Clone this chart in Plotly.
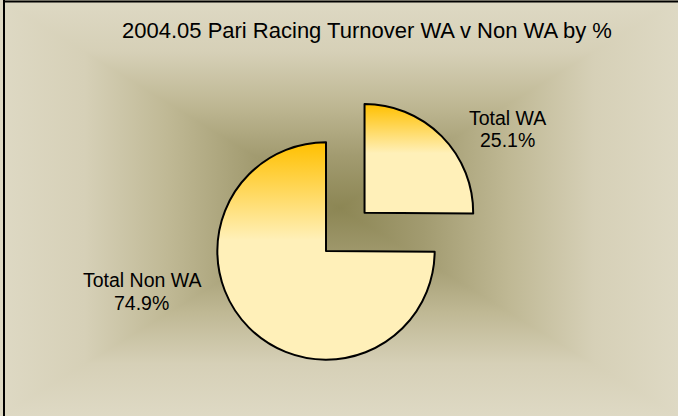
import base64
import plotly.graph_objects as go

# ---- data ----
labels = ["Total WA", "Total Non WA"]
values = [25.1, 74.9]
title_text = "2004.05 Pari Racing Turnover WA v Non WA by %"
pulls = [0.5, 0.0]

W, H = 678, 416
FONT = "Liberation Sans Narrow, Arial Narrow, Liberation Sans, Arial, sans-serif"

# ---- background: rectangular "from centre" gradient as an SVG image ----
cx, cy = W / 2, H / 2
stops = [(0.0, "#DED9C4"), (0.25, "#D6D0B7"), (0.5, "#BFB894"),
         (0.75, "#A29B70"), (1.0, "#8C8654")]
def grad(gid, x1, y1, x2, y2):
    s = "".join(f'<stop offset="{o}" stop-color="{c}"/>' for o, c in stops)
    return (f'<linearGradient id="{gid}" gradientUnits="userSpaceOnUse" '
            f'x1="{x1}" y1="{y1}" x2="{x2}" y2="{y2}">{s}</linearGradient>')
def tri(pts, gid):
    return (f'<polygon points="{pts}" fill="url(#{gid})" '
            f'stroke="url(#{gid})" stroke-width="1.2"/>')
svg = (f'<svg xmlns="http://www.w3.org/2000/svg" width="{W}" height="{H}" viewBox="0 0 {W} {H}">'
       '<defs>'
       + grad("gt", 0, 0, 0, cy) + grad("gb", 0, H, 0, cy)
       + grad("gl", 0, 0, cx, 0) + grad("gr", W, 0, cx, 0) +
       '</defs>'
       + tri(f"0,0 {W},0 {cx},{cy}", "gt")
       + tri(f"0,{H} {W},{H} {cx},{cy}", "gb")
       + tri(f"0,0 0,{H} {cx},{cy}", "gl")
       + tri(f"{W},0 {W},{H} {cx},{cy}", "gr")
       + '</svg>')
bg_src = "data:image/svg+xml;base64," + base64.b64encode(svg.encode()).decode()

fig = go.Figure()
fig.add_trace(go.Pie(
    labels=labels, values=values, pull=pulls,
    sort=False, direction="clockwise", rotation=0,
    textinfo="none", hoverinfo="label+percent",
    marker=dict(colors=["#FFF0B9", "#FFF0B9"], line=dict(color="black", width=2)),
    domain=dict(x=[(326 - 163) / W, (326 + 163) / W],
                y=[1 - 414 / H, 1 - 88 / H]),
    showlegend=False,
))

def py(p):
    return 1 - p / H

annotations = [
    dict(text=title_text, x=367 / W, y=py(31), font=dict(size=22)),
    dict(text=labels[0], x=507 / W, y=py(118), font=dict(size=19.5)),
    dict(text=f"{values[0]:.1f}%", x=507 / W, y=py(140), font=dict(size=19.5)),
    dict(text=labels[1], x=142 / W, y=py(280), font=dict(size=19.5)),
    dict(text=f"{values[1]:.1f}%", x=141 / W, y=py(303), font=dict(size=19.5)),
]
for a in annotations:
    a.update(xref="paper", yref="paper", showarrow=False,
             xanchor="center", yanchor="middle")
    a["font"].update(family=FONT, color="black")

fig.update_layout(
    width=W, height=H,
    margin=dict(l=0, r=0, t=0, b=0),
    paper_bgcolor="#DED9C4",
    plot_bgcolor="rgba(0,0,0,0)",
    font=dict(family=FONT, color="black"),
    annotations=annotations,
    images=[dict(source=bg_src, xref="paper", yref="paper", x=0, y=1,
                 sizex=1, sizey=1, xanchor="left", yanchor="top",
                 sizing="stretch", layer="below")],
    shapes=[
        dict(type="line", xref="paper", yref="paper",
             x0=4 / W, x1=4 / W, y0=0, y1=1, line=dict(color="black", width=2)),
        dict(type="line", xref="paper", yref="paper",
             x0=3 / W, x1=1, y0=1 - 1.5 / H, y1=1 - 1.5 / H,
             line=dict(color="black", width=2)),
    ],
)

post_js = """
(function(){
  document.documentElement.style.margin = '0';
  document.body.style.margin = '0';
  document.body.style.padding = '0';
  document.body.style.overflow = 'hidden';
  var gd = document.getElementById('{plot_id}');
  var ns = 'http://www.w3.org/2000/svg';
  function apply(){
    var defs = gd.querySelector('svg.main-svg defs');
    if(!defs) return;
    if(!gd.querySelector('#sliceGrad')){
      var g = document.createElementNS(ns, 'linearGradient');
      g.setAttribute('id', 'sliceGrad');
      g.setAttribute('x1', '0'); g.setAttribute('y1', '0');
      g.setAttribute('x2', '0'); g.setAttribute('y2', '1');
      [['0', '#FFC000'], ['0.45', '#FFF0B9'], ['1', '#FFF0B9']].forEach(function(s){
        var st = document.createElementNS(ns, 'stop');
        st.setAttribute('offset', s[0]); st.setAttribute('stop-color', s[1]);
        g.appendChild(st);
      });
      defs.appendChild(g);
    }
    gd.querySelectorAll('g.slice path.surface').forEach(function(p){
      p.style.fill = 'url(#sliceGrad)';
    });
  }
  apply();
  if(gd.on) gd.on('plotly_afterplot', apply);
})();
"""

fig.write_html("out.html", post_script=post_js, config={"displayModeBar": False})
